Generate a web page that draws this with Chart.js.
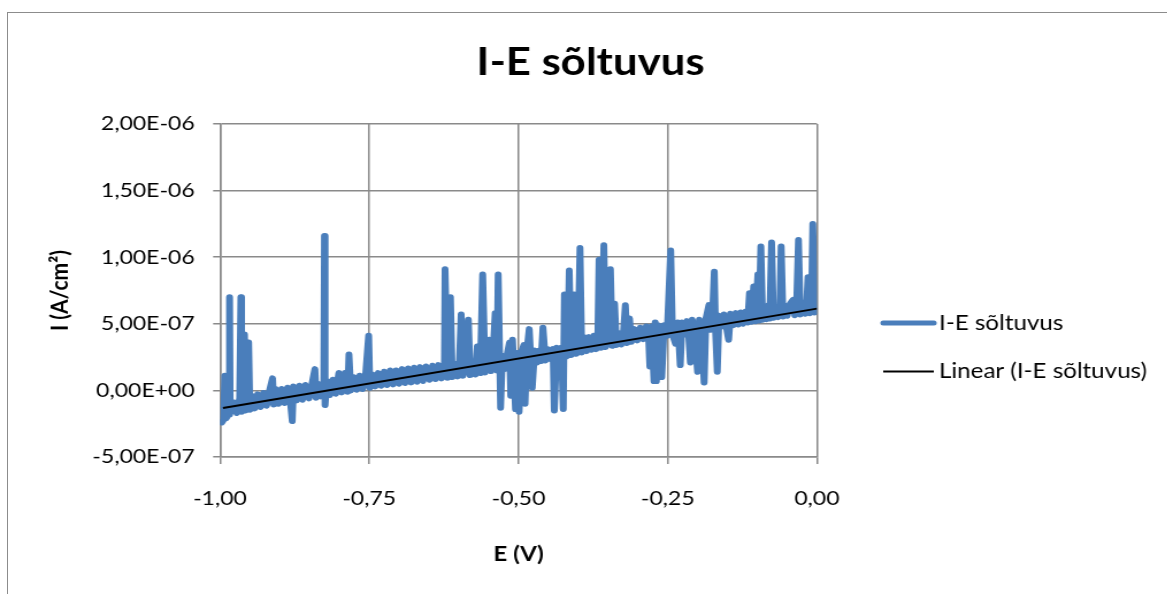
<!DOCTYPE html>
<html>
<head>
<meta charset="utf-8">
<title>I-E sõltuvus</title>
<script src="https://cdn.jsdelivr.net/npm/chart.js@4.4.1/dist/chart.umd.min.js"></script>
<style>
  html, body { margin: 0; padding: 0; background: #fff; overflow: hidden; }
  #frame {
    position: absolute; left: 7px; top: 12px; width: 1200px; height: 640px;
    border-left: 1.5px solid #8c8c8c; border-top: 1.5px solid #8c8c8c;
  }
  /* the reference picture is widened sideways, so the chart is drawn narrower and stretched */
  #stretch {
    position: absolute; left: 0; top: 0; width: 1015px; height: 594px;
    transform: scaleX(1.15); transform-origin: 0 0;
  }
</style>
</head>
<body>
<div id="frame"></div>
<div id="stretch"><canvas id="ieChart" width="1015" height="594"></canvas></div>
<script>
// potential E (V)
const potential = [
  -0.997, -0.994, -0.992, -0.990, -0.987, -0.985, -0.984, -0.983, -0.977, -0.972,
  -0.967, -0.965, -0.964, -0.960, -0.959, -0.957, -0.953, -0.952, -0.950, -0.947,
  -0.942, -0.937, -0.932, -0.927, -0.922, -0.917, -0.912, -0.910, -0.907, -0.902,
  -0.897, -0.892, -0.887, -0.882, -0.879, -0.877, -0.872, -0.867, -0.862, -0.857,
  -0.851, -0.846, -0.841, -0.839, -0.836, -0.831, -0.826, -0.825, -0.824, -0.821,
  -0.816, -0.811, -0.806, -0.801, -0.796, -0.791, -0.786, -0.784, -0.781, -0.776,
  -0.771, -0.766, -0.761, -0.756, -0.751, -0.749, -0.745, -0.740, -0.735, -0.730,
  -0.725, -0.720, -0.715, -0.710, -0.705, -0.700, -0.695, -0.690, -0.685, -0.680,
  -0.675, -0.670, -0.665, -0.660, -0.655, -0.649, -0.644, -0.639, -0.634, -0.629,
  -0.624, -0.623, -0.619, -0.614, -0.611, -0.607, -0.602, -0.599, -0.596, -0.593,
  -0.589, -0.584, -0.581, -0.576, -0.572, -0.569, -0.564, -0.560, -0.556, -0.553,
  -0.549, -0.546, -0.543, -0.539, -0.536, -0.534, -0.530, -0.527, -0.523, -0.519,
  -0.515, -0.513, -0.510, -0.505, -0.502, -0.499, -0.495, -0.491, -0.489, -0.486,
  -0.482, -0.479, -0.477, -0.473, -0.469, -0.465, -0.462, -0.459, -0.455, -0.451,
  -0.446, -0.442, -0.440, -0.436, -0.432, -0.428, -0.425, -0.423, -0.420, -0.417,
  -0.415, -0.412, -0.409, -0.407, -0.403, -0.400, -0.397, -0.394, -0.390, -0.386,
  -0.382, -0.378, -0.374, -0.370, -0.367, -0.365, -0.362, -0.360, -0.357, -0.354,
  -0.350, -0.346, -0.343, -0.339, -0.336, -0.332, -0.328, -0.324, -0.321, -0.318,
  -0.314, -0.311, -0.306, -0.301, -0.296, -0.291, -0.286, -0.282, -0.280, -0.277,
  -0.273, -0.271, -0.269, -0.266, -0.263, -0.260, -0.256, -0.251, -0.245, -0.242,
  -0.237, -0.233, -0.229, -0.226, -0.222, -0.218, -0.215, -0.212, -0.209, -0.205,
  -0.200, -0.197, -0.193, -0.189, -0.186, -0.181, -0.178, -0.175, -0.172, -0.170,
  -0.167, -0.164, -0.160, -0.156, -0.152, -0.148, -0.145, -0.140, -0.136, -0.132,
  -0.128, -0.124, -0.120, -0.116, -0.113, -0.110, -0.106, -0.103, -0.099, -0.097,
  -0.094, -0.091, -0.087, -0.084, -0.081, -0.079, -0.076, -0.073, -0.070, -0.065,
  -0.062, -0.060, -0.057, -0.055, -0.050, -0.045, -0.040, -0.037, -0.034, -0.031,
  -0.028, -0.024, -0.020, -0.017, -0.015, -0.012, -0.009, -0.007, -0.004, -0.002, 0.000
];

// current density I (A/cm2)
const current = [
  -2.4e-7, -2.2e-7, 1.1e-7, -2.1e-7, -1.9e-7, -1.8e-7, 7.0e-7, -1.7e-7, -0.9e-7, -1.7e-7,
  -0.6e-7, 7.0e-7, -1.6e-7, -0.5e-7, 4.2e-7, -1.5e-7, -0.4e-7, 3.6e-7, -1.45e-7, -0.4e-7,
  -1.35e-7, -0.3e-7, -1.25e-7, -0.2e-7, -1.15e-7, 0, 0.9e-7, -1.05e-7, 0.1e-7, -1.0e-7,
  0.1e-7, -0.95e-7, 0.2e-7, -0.85e-7, -2.3e-7, 0.3e-7, -0.75e-7, 0.35e-7, -0.7e-7, 0.4e-7,
  -0.6e-7, 0.45e-7, 1.6e-7, -0.55e-7, 0.5e-7, -0.45e-7, 0.6e-7, 11.6e-7, -1.1e-7, 0.7e-7,
  -0.35e-7, 0.8e-7, -0.25e-7, 1.3e-7, -0.15e-7, 1.3e-7, -0.1e-7, 2.7e-7, 0, 1.0e-7,
  0.05e-7, 1.1e-7, 0.1e-7, 1.2e-7, 4.1e-7, 0.2e-7, 1.2e-7, 0.3e-7, 1.3e-7, 0.35e-7,
  1.4e-7, 0.4e-7, 1.5e-7, 0.45e-7, 1.5e-7, 0.5e-7, 1.6e-7, 0.55e-7, 1.65e-7, 0.6e-7,
  1.7e-7, 0.65e-7, 1.75e-7, 0.7e-7, 1.8e-7, 0.8e-7, 1.85e-7, 0.85e-7, 1.9e-7, 0.9e-7,
  1.95e-7, 9.1e-7, 0.95e-7, 7.0e-7, 1.0e-7, 2.0e-7, 1.05e-7, 2.05e-7, 5.7e-7, 1.1e-7,
  2.1e-7, 5.3e-7, 1.15e-7, 2.15e-7, 1.2e-7, 3.3e-7, 1.3e-7, 8.7e-7, 1.35e-7, 2.3e-7,
  3.8e-7, 1.45e-7, 2.4e-7, 5.8e-7, 1.5e-7, 8.7e-7, -1.3e-7, 2.6e-7, 1.6e-7, 2.7e-7,
  3.6e-7, -0.4e-7, 3.8e-7, -1.4e-7, 2.8e-7, -1.6e-7, 2.9e-7, 3.4e-7, -1.0e-7, 2.9e-7,
  4.6e-7, 2.0e-7, 0.2e-7, 3.0e-7, 2.1e-7, 3.0e-7, 2.2e-7, 4.7e-7, 2.25e-7, 3.1e-7,
  2.35e-7, 3.1e-7, -1.5e-7, 3.2e-7, 2.45e-7, 3.2e-7, -1.4e-7, 7.2e-7, 2.55e-7, 4.0e-7,
  9.0e-7, 2.65e-7, 4.0e-7, 7.2e-7, 2.75e-7, 3.9e-7, 10.7e-7, 2.85e-7, 4.0e-7, 2.95e-7,
  4.0e-7, 3.05e-7, 4.1e-7, 3.1e-7, 4.1e-7, 9.8e-7, 3.2e-7, 4.1e-7, 10.9e-7, 3.25e-7,
  4.2e-7, 9.1e-7, 3.35e-7, 6.5e-7, 3.4e-7, 4.3e-7, 3.45e-7, 4.4e-7, 6.4e-7, 3.55e-7,
  5.4e-7, 3.65e-7, 4.6e-7, 3.75e-7, 4.7e-7, 3.85e-7, 4.8e-7, 3.95e-7, 1.8e-7, 4.8e-7,
  0.7e-7, 5.1e-7, 0.7e-7, 4.9e-7, 4.0e-7, 1.0e-7, 4.9e-7, 4.1e-7, 10.5e-7, 4.2e-7,
  3.5e-7, 5.1e-7, 1.9e-7, 5.1e-7, 4.2e-7, 5.2e-7, 4.25e-7, 2.1e-7, 5.3e-7, 4.35e-7,
  1.4e-7, 5.3e-7, 4.45e-7, 0.6e-7, 5.4e-7, 6.4e-7, 4.55e-7, 5.5e-7, 8.9e-7, 4.65e-7,
  1.4e-7, 5.6e-7, 4.8e-7, 5.7e-7, 4.85e-7, 3.8e-7, 5.75e-7, 4.9e-7, 5.8e-7, 4.95e-7,
  5.85e-7, 5.0e-7, 5.9e-7, 5.1e-7, 7.3e-7, 5.15e-7, 7.8e-7, 5.2e-7, 8.7e-7, 5.25e-7,
  10.8e-7, 5.3e-7, 6.2e-7, 5.35e-7, 6.4e-7, 5.4e-7, 11.1e-7, 5.45e-7, 6.3e-7, 5.5e-7,
  6.3e-7, 10.8e-7, 5.55e-7, 6.4e-7, 5.6e-7, 6.5e-7, 6.8e-7, 5.65e-7, 6.5e-7, 11.3e-7,
  5.7e-7, 6.6e-7, 5.75e-7, 6.6e-7, 8.5e-7, 5.8e-7, 6.7e-7, 12.5e-7, 5.85e-7, 6.6e-7, 6.3e-7
];

// Excel linear trendline, its two ends
const trendPotential = [-0.995, 0];
const trendCurrent = [-1.32e-7, 6.14e-7];

const xTickValues = [-1, -0.75, -0.5, -0.25, 0];
const yTickValues = [-5e-7, 0, 5e-7, 1e-6, 1.5e-6, 2e-6];

const seriesName = 'I-E sõltuvus';
const trendName = 'Linear (I-E sõltuvus)';

const gridColor = '#8a8a8a';
const blue = '#4a7ebb';

// 0,00E+00 style labels like Excel with a comma decimal
function fmtSci(v) {
  if (Math.abs(v) < 1e-15) return '0,00E+00';
  const parts = v.toExponential(2).split('e');
  const n = parseInt(parts[1], 10);
  return parts[0].replace('.', ',') + 'E' + (n < 0 ? '-' : '+') + String(Math.abs(n)).padStart(2, '0');
}

function fmtFixed(v) {
  if (Math.abs(v) < 1e-9) return '0,00';
  return v.toFixed(2).replace('.', ',');
}

// legend on the right, drawn as short line samples
const lineLegend = {
  id: 'lineLegend',
  afterDraw(chart, args, opts) {
    const ctx = chart.ctx;
    const x0 = chart.chartArea.right + opts.offsetX;
    ctx.save();
    ctx.font = opts.fontSize + 'px Lato, sans-serif';
    ctx.textBaseline = 'middle';
    ctx.textAlign = 'left';
    opts.rows.forEach(row => {
      const ds = chart.data.datasets[row.dataset];
      ctx.beginPath();
      ctx.lineCap = row.cap;
      ctx.strokeStyle = ds.borderColor;
      ctx.lineWidth = row.width;
      ctx.moveTo(x0, row.y);
      ctx.lineTo(x0 + opts.lineLength, row.y);
      ctx.stroke();
      ctx.fillStyle = '#000';
      ctx.fillText(ds.label, x0 + opts.lineLength + opts.gap, row.y);
    });
    ctx.restore();
  }
};

Chart.defaults.font.family = 'Lato, "Open Sans", sans-serif';
Chart.defaults.color = '#000';

const ctx = document.getElementById('ieChart').getContext('2d');

new Chart(ctx, {
  type: 'line',
  data: {
    datasets: [
      {
        label: seriesName,
        data: potential.map((e, i) => ({ x: e, y: current[i] })),
        borderColor: blue,
        backgroundColor: blue,
        borderWidth: 6,
        borderJoinStyle: 'round',
        borderCapStyle: 'round',
        pointRadius: 0,
        tension: 0,
        order: 2
      },
      {
        label: trendName,
        data: trendPotential.map((e, i) => ({ x: e, y: trendCurrent[i] })),
        borderColor: '#000',
        backgroundColor: '#000',
        borderWidth: 2,
        pointRadius: 0,
        order: 1
      }
    ]
  },
  options: {
    responsive: false,
    animation: false,
    layout: { padding: { left: 12, top: 0, right: 0, bottom: 0 } },
    scales: {
      x: {
        type: 'linear',
        min: -1,
        max: 0,
        afterBuildTicks: s => { s.ticks = xTickValues.map(v => ({ value: v })); },
        afterFit: s => { s.height = 137; },
        grid: { color: gridColor, lineWidth: 1.5, tickLength: 7, tickColor: gridColor },
        border: { color: gridColor, width: 1.5 },
        ticks: { font: { size: 20 }, padding: 23, maxRotation: 0, callback: v => fmtFixed(v) },
        title: { display: true, text: 'E (V)', font: { size: 21, weight: 'bold' }, padding: { top: 0, bottom: 27 } }
      },
      y: {
        type: 'linear',
        min: -5e-7,
        max: 2e-6,
        afterBuildTicks: s => { s.ticks = yTickValues.map(v => ({ value: v })); },
        afterFit: s => { s.width = 179.3; },
        grid: { color: gridColor, lineWidth: 1.5, tickLength: 6, tickColor: gridColor },
        border: { color: gridColor, width: 1.5 },
        ticks: { font: { size: 20 }, padding: 16, callback: v => fmtSci(v) },
        title: { display: true, text: 'I (A/cm²)', font: { size: 21, weight: 'bold' }, padding: { top: 28, bottom: 0 } }
      },
      // empty room on the right for the legend
      y2: {
        type: 'linear',
        position: 'right',
        grid: { display: false, drawTicks: false },
        border: { display: false },
        ticks: { display: false },
        afterFit: s => { s.width = 304.6; }
      }
    },
    plugins: {
      legend: { display: false },
      tooltip: { enabled: false },
      title: {
        display: true,
        text: seriesName,
        color: '#000',
        font: { size: 38, weight: 'bold' },
        padding: { top: 40, bottom: 38.4 }
      },
      lineLegend: {
        offsetX: 57.6,
        lineLength: 44,
        gap: 4.5,
        fontSize: 21,
        rows: [
          { dataset: 0, y: 323, cap: 'round', width: 5 },
          { dataset: 1, y: 371.5, cap: 'butt', width: 2 }
        ]
      }
    }
  },
  plugins: [lineLegend]
});
</script>
</body>
</html>
